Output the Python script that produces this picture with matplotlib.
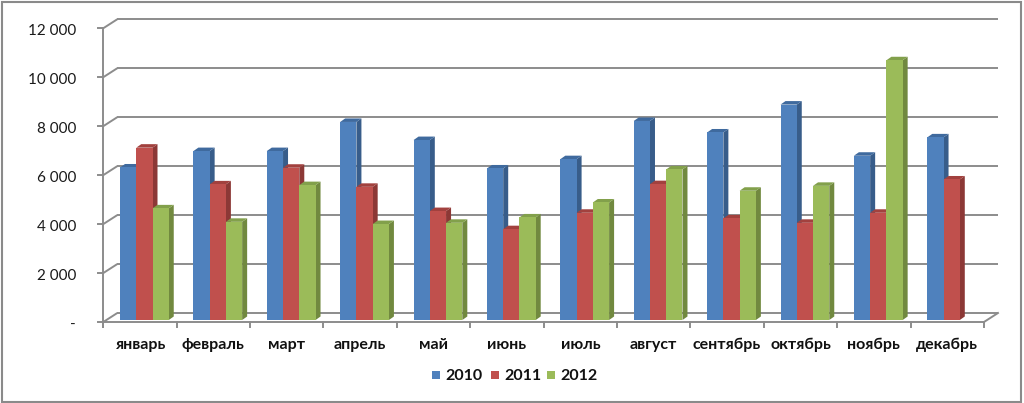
import numpy as np
import matplotlib
matplotlib.use('Agg')
import matplotlib.pyplot as plt
from matplotlib.patches import Polygon, Rectangle

plt.rcParams['font.family'] = ['Lato', 'DejaVu Sans']

months = ['январь', 'февраль', 'март', 'апрель', 'май', 'июнь', 'июль',
          'август', 'сентябрь', 'октябрь', 'ноябрь', 'декабрь']
years = ['2010', '2011', '2012']
v2010 = [6230, 6900, 6900, 8090, 7350, 6190, 6570, 8130, 7660, 8800, 6710, 7460]
v2011 = [7040, 5540, 6220, 5440, 4450, 3710, 4380, 5550, 4150, 3970, 4380, 5740]
v2012 = [4560, 4010, 5510, 3920, 3970, 4190, 4800, 6150, 5280, 5480, 10610, np.nan]
yticks = [0, 2000, 4000, 6000, 8000, 10000, 12000]
ytick_labels = ['-', '2 000', '4 000', '6 000', '8 000', '10 000', '12 000']

front_colors = ['#4F81BD', '#C0504D', '#9BBB59']
side_colors = ['#385D8A', '#8C3836', '#71893F']
top_colors = ['#3F6A9E', '#A2413E', '#82A04B']
grid_c = '#8C8C8C'

W, H = 1024, 403
fig = plt.figure(figsize=(W / 100, H / 100), dpi=100)
ax = fig.add_axes([0, 0, 1, 1])

# pixel geometry of the projected plot area
X0, CW, Y0, PXU = 103.3, 73.39, 322.0, 0.02448
def X(px): return (px - X0) / CW
def Y(py): return (Y0 - py) / PXU

ax.set_xlim(X(0), X(W))
ax.set_ylim(Y(H), Y(0))
ax.axis('off')

ncat = len(months)
DX, DY = 14 / CW, 9 / PXU
lw = 1.4

# walls / gridlines
for v in yticks:
    ax.plot([0, DX], [v, v + DY], color=grid_c, lw=lw, zorder=1, solid_capstyle='butt')
    ax.plot([DX, ncat + DX], [v + DY, v + DY], color=grid_c, lw=lw, zorder=1, solid_capstyle='butt')
    ax.plot([X(97.7), 0], [v, v], color=grid_c, lw=lw, zorder=1)
    ax.text(X(76), v - 2.5 / PXU, ytick_labels[yticks.index(v)], ha='right', va='center',
            fontsize=11, color='#1a1a1a')
ax.plot([0, 0], [Y(327), yticks[-1]], color=grid_c, lw=lw, zorder=1)
ax.plot([0, ncat], [0, 0], color=grid_c, lw=lw, zorder=1)
ax.plot([ncat, ncat + DX], [0, DY], color=grid_c, lw=lw, zorder=1)
for i in range(ncat + 1):
    ax.plot([i, i], [0, Y(327)], color=grid_c, lw=lw, zorder=1)

# bars
series = [v2010, v2011, v2012]
bw = 16.25 / CW
off = 16.7 / CW
y0 = 2 / PXU
bdx, bdy = 5 / CW, 3.5 / PXU
z = 2
for i in range(ncat):
    for s, vals in enumerate(series):
        val = vals[i]
        if np.isnan(val):
            continue
        left = i + off + s * bw
        right = left + bw
        bottom, top = y0, y0 + val
        ax.add_patch(Polygon([(right, bottom), (right + bdx, bottom + bdy),
                              (right + bdx, top + bdy), (right, top)],
                             closed=True, fc=side_colors[s], ec='none', zorder=z))
        ax.add_patch(Polygon([(left, top), (left + bdx, top + bdy),
                              (right + bdx, top + bdy), (right, top)],
                             closed=True, fc=top_colors[s], ec='none', zorder=z + 0.1))
        ax.add_patch(Rectangle((left, bottom), bw, val, fc=front_colors[s], ec='none',
                               zorder=z + 0.2))
        z += 1

# category labels
for i, m in enumerate(months):
    ax.text(i + 0.5, Y(345), m, ha='center', va='center', fontsize=11.5,
            fontweight='bold', color='#111111')

# legend
leg_x = [432, 491, 547]
for s, yr in enumerate(years):
    ax.add_patch(Rectangle((X(leg_x[s]), Y(379)), X(leg_x[s] + 8) - X(leg_x[s]),
                           Y(371) - Y(379), fc=front_colors[s], ec='none', zorder=50))
    ax.text(X(leg_x[s] + 13), Y(375.5), yr, ha='left', va='center', fontsize=11.5,
            fontweight='bold', color='#111111')

# outer frame
fig.patches.append(Rectangle((1.5 / W, 1.5 / H), 1019.5 / W, 399.5 / H,
                             transform=fig.transFigure, fill=False, ec='#8A8A8A', lw=1.5))

fig.savefig('out.png', dpi=100)
